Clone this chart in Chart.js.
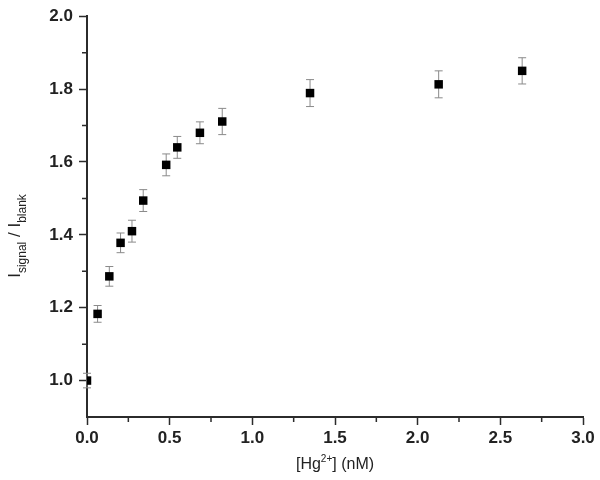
<!DOCTYPE html>
<html>
<head>
<meta charset="utf-8">
<script src="https://cdn.jsdelivr.net/npm/chart.js@4.4.1/dist/chart.umd.min.js"></script>
<style>
  html, body { margin: 0; padding: 0; background: #fff; }
  #wrap { width: 600px; height: 480px; }
</style>
</head>
<body>
<div id="wrap"><canvas id="chart" width="600" height="480"></canvas></div>
<script>
// Hg2+ concentration (nM) and relative signal
const concNM  = [0, 0.064, 0.135, 0.203, 0.272, 0.340, 0.479, 0.546, 0.683, 0.818, 1.349, 2.127, 2.632];
const ratio   = [1.000, 1.183, 1.286, 1.378, 1.410, 1.494, 1.592, 1.640, 1.680, 1.711, 1.789, 1.813, 1.850];
const errBar  = [0.020, 0.023, 0.027, 0.027, 0.030, 0.030, 0.030, 0.030, 0.030, 0.036, 0.037, 0.037, 0.036];

const xTicks = [0, 0.5, 1.0, 1.5, 2.0, 2.5, 3.0];
const xMinor = [0.25, 0.75, 1.25, 1.75, 2.25, 2.75];
const yTicks = [1.0, 1.2, 1.4, 1.6, 1.8, 2.0];
const yMinor = [1.1, 1.3, 1.5, 1.7, 1.9];

const axisColor = '#2b2b2b';
const fam = '"Liberation Sans", Arial';

// error bars + minor ticks + axis titles
const extras = {
    id: 'extras',
    beforeDatasetsDraw(chart) {
        const ctx = chart.ctx;
        const xs = chart.scales.x, ys = chart.scales.y;
        ctx.save();
        ctx.strokeStyle = '#8a8a8a';
        ctx.lineWidth = 1;
        concNM.forEach((c, i) => {
            const px = xs.getPixelForValue(c);
            const top = ys.getPixelForValue(ratio[i] + errBar[i]);
            const bot = ys.getPixelForValue(ratio[i] - errBar[i]);
            ctx.beginPath();
            ctx.moveTo(px, top); ctx.lineTo(px, bot);
            ctx.moveTo(px - 4, top); ctx.lineTo(px + 4, top);
            ctx.moveTo(px - 4, bot); ctx.lineTo(px + 4, bot);
            ctx.stroke();
        });
        ctx.restore();
    },
    afterDraw(chart) {
        const ctx = chart.ctx;
        const xs = chart.scales.x, ys = chart.scales.y;
        const area = chart.chartArea;
        ctx.save();
        ctx.strokeStyle = axisColor;
        ctx.lineWidth = 1.5;
        ctx.beginPath();
        xMinor.forEach(v => {
            const px = xs.getPixelForValue(v);
            ctx.moveTo(px, area.bottom); ctx.lineTo(px, area.bottom + 5);
        });
        yMinor.forEach(v => {
            const py = ys.getPixelForValue(v);
            ctx.moveTo(area.left, py); ctx.lineTo(area.left - 5, py);
        });
        ctx.stroke();

        // x title
        ctx.fillStyle = '#222';
        ctx.textBaseline = 'alphabetic';
        const cx = (area.left + area.right) / 2;
        const parts = [
            ['[Hg', '16px', 0],
            ['2+', '10px', -7],
            ['] (nM)', '16px', 0]
        ];
        let w = 0;
        parts.forEach(p => { ctx.font = p[1] + ' ' + fam; w += ctx.measureText(p[0]).width; });
        let x0 = cx - w / 2;
        parts.forEach(p => {
            ctx.font = p[1] + ' ' + fam;
            ctx.fillText(p[0], x0, 469 + p[2]);
            x0 += ctx.measureText(p[0]).width;
        });

        // y title, rotated
        ctx.translate(20, 236);
        ctx.rotate(-Math.PI / 2);
        const yparts = [
            ['I', '17px', 0],
            ['signal', '12px', 6],
            [' / ', '17px', 0],
            ['I', '17px', 0],
            ['blank', '12px', 6]
        ];
        w = 0;
        yparts.forEach(p => { ctx.font = p[1] + ' ' + fam; w += ctx.measureText(p[0]).width; });
        x0 = -w / 2;
        yparts.forEach(p => {
            ctx.font = p[1] + ' ' + fam;
            ctx.fillText(p[0], x0, p[2]);
            x0 += ctx.measureText(p[0]).width;
        });
        ctx.restore();
    }
};

new Chart(document.getElementById('chart'), {
    type: 'scatter',
    data: {
        datasets: [{
            data: concNM.map((c, i) => ({ x: c, y: ratio[i] })),
            pointStyle: 'rect',
            pointRadius: 6,
            pointHoverRadius: 6,
            backgroundColor: '#000',
            borderColor: '#000',
            borderWidth: 0,
            clip: { left: 0, top: false, right: false, bottom: false }
        }]
    },
    options: {
        responsive: false,
        animation: false,
        events: [],
        layout: { padding: { left: 37, right: 17, top: 12, bottom: 0 } },
        plugins: {
            legend: { display: false },
            tooltip: { enabled: false }
        },
        scales: {
            x: {
                type: 'linear',
                min: 0,
                max: 3,
                afterBuildTicks: s => { s.ticks = xTicks.map(v => ({ value: v })); },
                afterFit: s => { s.height = 63; },
                border: { color: axisColor, width: 2 },
                grid: { drawOnChartArea: false, drawTicks: true, tickLength: 8, color: axisColor, tickWidth: 1.5 },
                ticks: {
                    padding: 3,
                    color: '#222',
                    font: { family: fam, size: 17, weight: 'bold' },
                    callback: v => v.toFixed(1)
                }
            },
            y: {
                type: 'linear',
                min: 0.9,
                max: 2.0,
                afterBuildTicks: s => { s.ticks = yTicks.map(v => ({ value: v })); },
                afterFit: s => { s.width = 50; },
                border: { color: axisColor, width: 2 },
                grid: { drawOnChartArea: false, drawTicks: true, tickLength: 8, color: axisColor, tickWidth: 1.5 },
                ticks: {
                    padding: 6,
                    color: '#222',
                    font: { family: fam, size: 17, weight: 'bold' },
                    callback: v => v.toFixed(1)
                }
            }
        }
    },
    plugins: [extras]
});
</script>
</body>
</html>
